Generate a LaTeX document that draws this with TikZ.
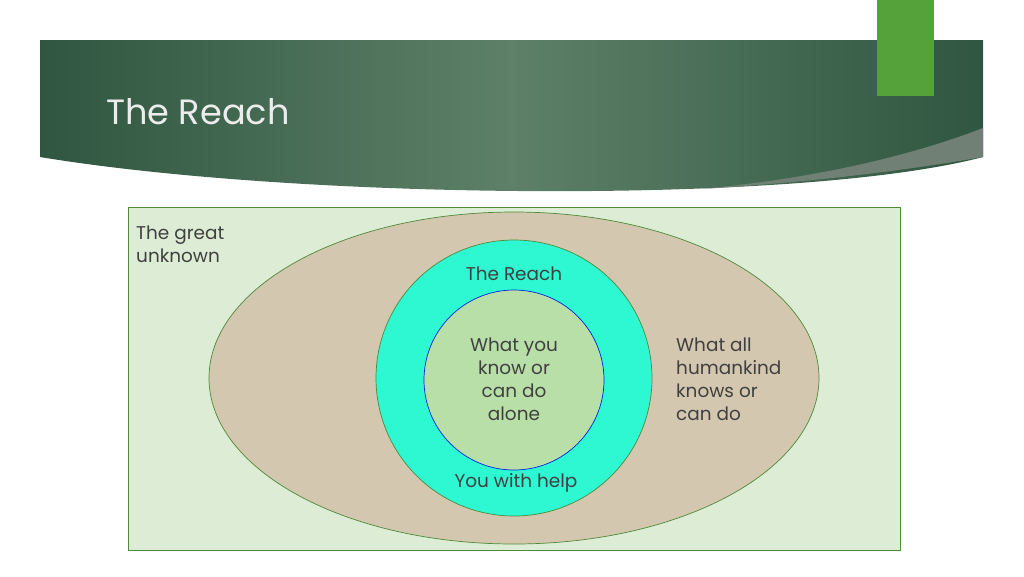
\documentclass[tikz,border=0pt]{standalone}
\usepackage{fontspec}
\setmainfont{Poppins}
\usetikzlibrary{positioning}
\definecolor{hdark}{HTML}{2F5640}
\definecolor{hmid}{HTML}{5E8068}
\definecolor{tabgreen}{HTML}{56A23A}
\definecolor{boxfill}{HTML}{DDEDD5}
\definecolor{boxline}{HTML}{4E8A3A}
\definecolor{tan}{HTML}{D3C7B0}
\definecolor{reach}{HTML}{2EF8D2}
\definecolor{alone}{HTML}{B9DFA8}
\definecolor{txt}{HTML}{404040}
\tikzstyle{ctext} = [font=\fontsize{10.5}{13}\selectfont, text=txt, align=center]
\tikzstyle{ltext} = [font=\fontsize{10.5}{13}\selectfont, text=txt, align=left]
\begin{document}
\begin{tikzpicture}[x=0.02cm, y=-0.02cm]
  \useasboundingbox (0,0) rectangle (1024,576);
  % header band
  \shade[left color=hdark, right color=hdark, middle color=hmid]
    (40,40) -- (983,40) -- (983,157) .. controls (800,205) and (300,200) .. (40,157) -- cycle;
  \fill[gray!55!hmid] (983,128) .. controls (900,160) and (800,180) .. (700,189)
    .. controls (820,182) and (920,168) .. (983,157) -- cycle;
  \fill[tabgreen] (877,0) rectangle (934,96);
  \node (title) [anchor=west, font=\fontsize{20}{24}\selectfont, text=gray!15] at (100,112) {The Reach};
  % reach diagram
  \draw[boxline, fill=boxfill] (128,207) rectangle (900,550);
  \draw[boxline, fill=tan] (514,378) ellipse [x radius=305, y radius=166];
  \draw[boxline, fill=reach] (514,378) circle [radius=138];
  \draw[blue!70!teal, fill=alone] (514,380) circle [radius=90];
  \node (unknown) [ltext, anchor=north west] at (130,220) {The great\\unknown};
  \node (reachtxt) [ctext] at (514,274) {The Reach};
  \node (alonetxt) [ctext] at (514,379) {What you\\know or\\can do\\alone};
  \node (helptxt) [ctext] at (516,483) {You with help};
  \node (human) [ltext, anchor=west] at (670,379) {What all\\humankind\\knows or\\can do};
\end{tikzpicture}
\end{document}
